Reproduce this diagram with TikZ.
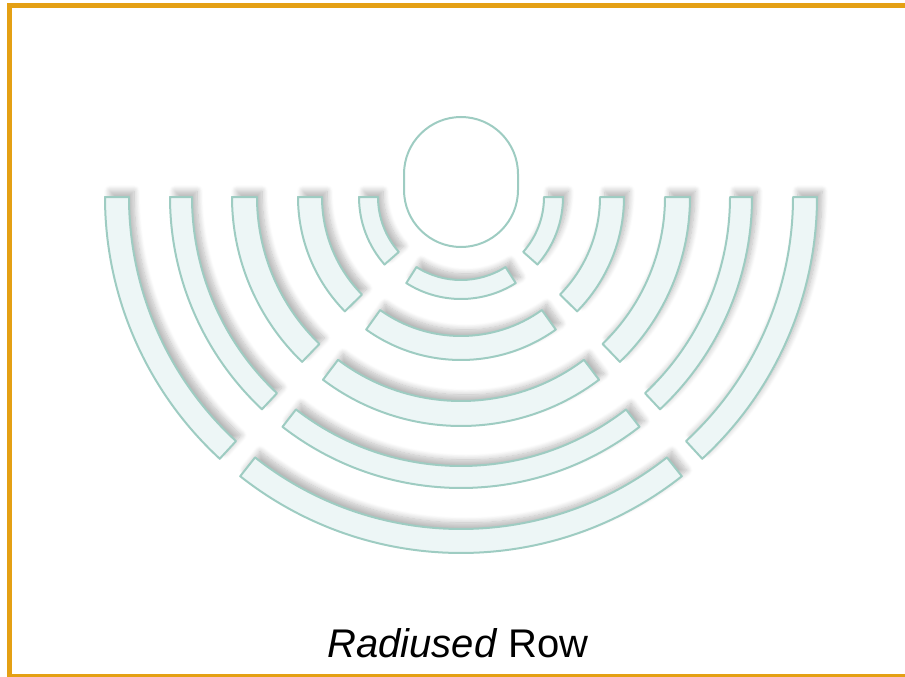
\documentclass[tikz,border=0pt]{standalone}
\usepackage{fontspec}
\setmainfont{Liberation Sans}
\usetikzlibrary{shadows.blur}
\definecolor{frameorange}{RGB}{228,160,20}
\definecolor{seatline}{RGB}{158,204,194}
\definecolor{seatfill}{RGB}{237,246,246}

\begin{document}
\begin{tikzpicture}[x=1pt,y=-1pt,
  seat/.style={draw=seatline,fill=seatfill,line width=2pt,line join=round,
    blur shadow={shadow xshift=5pt,shadow yshift=6pt,shadow blur radius=6pt,
      shadow blur steps=10,shadow opacity=28}},
  stage/.style={draw=seatline,fill=white,line width=2pt},
  frame/.style={draw=frameorange,line width=5pt}]
\useasboundingbox (0,0) rectangle (905,677);
% Frame (open on the right)
\draw[frame] (912,6) -- (9,6) -- (9,676) -- (912,676);
% Stage
\draw[stage,rounded corners=57pt] (404,117) rectangle (518,247);
% Rows of seats: left wing, front block, right wing
\begin{scope}[shift={(461,197)}]
\foreach \ro/\ri in {356/332,291/269,229/204,163/139,102/83} {
  \pgfmathsetmacro\dg{13/(0.5*(\ro+\ri))*57.2958}
  \pgfmathsetmacro\la{130.5+\dg}
  \pgfmathsetmacro\lb{130.5-\dg}
  \pgfmathsetmacro\rb{49.5+\dg}
  \pgfmathsetmacro\ra{49.5-\dg}
  \draw[seat] (180:\ro) arc[start angle=180,end angle=\la,radius=\ro]
    -- (\la:\ri) arc[start angle=\la,end angle=180,radius=\ri] -- cycle;
  \draw[seat] (\lb:\ro) arc[start angle=\lb,end angle=\rb,radius=\ro]
    -- (\rb:\ri) arc[start angle=\rb,end angle=\lb,radius=\ri] -- cycle;
  \draw[seat] (\ra:\ro) arc[start angle=\ra,end angle=0,radius=\ro]
    -- (0:\ri) arc[start angle=0,end angle=\ra,radius=\ri] -- cycle;
}
\end{scope}
% Caption
\node[font=\fontsize{40}{48}\selectfont,anchor=base] (caption) at (458,657)
  {\textit{Radiused} Row};
\end{tikzpicture}
\end{document}
